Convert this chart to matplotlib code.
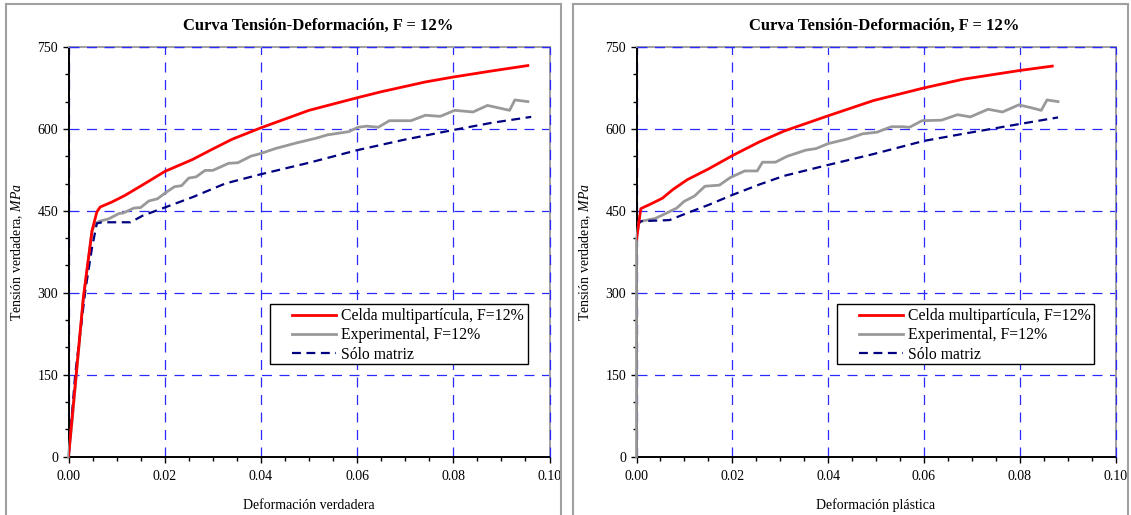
import matplotlib
matplotlib.use("Agg")
import matplotlib.pyplot as plt
from matplotlib.patches import Rectangle
from matplotlib.ticker import MultipleLocator, FormatStrFormatter

plt.rcParams["font.family"] = ["Liberation Serif", "DejaVu Serif"]
plt.rcParams["mathtext.fontset"] = "custom"
plt.rcParams["mathtext.it"] = "Liberation Serif:italic"
plt.rcParams["mathtext.rm"] = "Liberation Serif"

# --- data, left panel (true strain) ---
true_red_x = [0, 0.0007, 0.0031, 0.0049, 0.0059, 0.0066, 0.0090, 0.0117, 0.0159, 0.020,
              0.0258, 0.0295, 0.034, 0.040, 0.050, 0.060, 0.065, 0.0742, 0.080, 0.0879, 0.0955]
true_red_y = [0, 66, 292, 414, 448, 457, 466, 478, 500, 522,
              544, 561, 581, 602, 634, 657, 668, 686, 695, 706, 716]

true_gray_x = [0, 0.0007, 0.0031, 0.0049, 0.0056, 0.0065, 0.0083, 0.0105, 0.0114, 0.0136,
               0.0150, 0.0167, 0.0185, 0.020, 0.022, 0.0235, 0.025, 0.0265, 0.0284, 0.030,
               0.0333, 0.0352, 0.0379, 0.040, 0.043, 0.0477, 0.0515, 0.0538, 0.0583, 0.0602,
               0.062, 0.0644, 0.0667, 0.0712, 0.0742, 0.0773, 0.0803, 0.0841, 0.0871, 0.0917,
               0.0928, 0.0955]
true_gray_y = [0, 60, 290, 414, 427, 431, 435, 445, 446, 455,
               456, 468, 472, 482, 494, 496, 510, 512, 524, 524,
               537, 538, 550, 555, 564, 575, 583, 589, 595, 603,
               605, 603, 615, 615, 625, 623, 634, 631, 643, 634,
               653, 650]

true_blue_x = [0, 0.0014, 0.0035, 0.0049, 0.0059, 0.007, 0.0129, 0.0154, 0.020, 0.0258,
               0.0326, 0.040, 0.050, 0.060, 0.0697, 0.080, 0.0879, 0.0962]
true_blue_y = [0, 151, 304, 383, 427, 429, 429, 441, 456, 475,
               500, 517, 538, 561, 580, 598, 611, 622]

# --- data, right panel (plastic strain) ---
pl_red_x = [0, 0.0009, 0.0031, 0.0054, 0.0076, 0.0106, 0.0151, 0.020, 0.0256, 0.0308,
            0.040, 0.0495, 0.060, 0.0682, 0.080, 0.0868]
pl_red_y = [398, 454, 463, 473, 489, 507, 527, 551, 576, 596,
            624, 652, 675, 691, 707, 715]

pl_gray_x = [0, 0, 0.0005, 0.0039, 0.0061, 0.0084, 0.0099, 0.0121, 0.0143, 0.0173,
             0.0196, 0.0226, 0.0252, 0.0263, 0.029, 0.0315, 0.0353, 0.0375, 0.040, 0.0442,
             0.0472, 0.0502, 0.0532, 0.0555, 0.057, 0.0596, 0.0637, 0.067, 0.0697, 0.0734,
             0.0764, 0.0798, 0.0823, 0.0845, 0.0857, 0.088]
pl_gray_y = [0, 397, 430, 436, 445, 455, 467, 477, 495, 497,
             511, 523, 523, 539, 539, 550, 561, 564, 573, 582,
             591, 594, 604, 604, 603, 615, 616, 626, 622, 636,
             631, 644, 639, 634, 653, 650]

pl_blue_x = [0, 0.0009, 0.0069, 0.0106, 0.0151, 0.020, 0.0256, 0.0308, 0.040, 0.0495,
             0.060, 0.0682, 0.080, 0.088]
pl_blue_y = [421, 431, 433, 446, 461, 479, 498, 514, 534, 554,
             578, 591, 609, 621]

title = "Curva Tensión-Deformación, F = 12%"
labels = ["Celda multipartícula, F=12%", "Experimental, F=12%", "Sólo matriz"]

W, H = 1131, 515
fig = plt.figure(figsize=(W / 100, H / 100), dpi=100)

# outer chart frames
for x0, x1 in [(6, 561), (573, 1128)]:
    fig.patches.append(Rectangle((x0 / W, -0.02), (x1 - x0) / W, (H - 4) / H + 0.02,
                                 transform=fig.transFigure, fill=False,
                                 edgecolor="#a0a0a0", linewidth=1.5))

grid_dash = (0, (8, 6))


def panel(left_px, right_px, rx, ry, gx, gy, bx, by, xlabel, title_x):
    ax = fig.add_axes([left_px / W, (H - 456.5) / H,
                       (right_px - left_px) / W, 409.5 / H])
    ax.plot(rx, ry, color="#ff0000", lw=2.0, zorder=4, label=labels[0])
    ax.plot(gx, gy, color="#999999", lw=2.0, zorder=3, label=labels[1], clip_on=False)
    ax.plot(bx, by, color="#000080", lw=1.6, ls=(0, (4, 2.5)), zorder=3, label=labels[2])

    ax.set_xlim(0, 0.10)
    ax.set_ylim(0, 750)
    ax.xaxis.set_major_locator(MultipleLocator(0.02))
    ax.xaxis.set_minor_locator(MultipleLocator(0.005))
    ax.xaxis.set_major_formatter(FormatStrFormatter("%.2f"))
    ax.yaxis.set_major_locator(MultipleLocator(150))
    ax.yaxis.set_minor_locator(MultipleLocator(50))
    ax.tick_params(which="both", direction="out", labelsize=10, width=1)
    ax.tick_params(which="major", length=4)
    ax.tick_params(which="minor", length=3)
    ax.tick_params(axis="x", pad=6)

    ax.grid(True, which="major", color="#2a2aff", lw=0.9, ls=grid_dash)
    ax.set_axisbelow(True)

    for s in ["left", "bottom"]:
        ax.spines[s].set_color("black")
        ax.spines[s].set_linewidth(1.4)
    for s in ["top", "right"]:
        ax.spines[s].set_color("#a0a0a0")
        ax.spines[s].set_linewidth(1.4)
    # dashed blue lines over the gray top/right border
    ax.axhline(750, color="#2a2aff", lw=0.9, ls=grid_dash, zorder=3, clip_on=False)
    ax.axvline(0.10, color="#2a2aff", lw=0.9, ls=grid_dash, zorder=3, clip_on=False)

    ax.set_xlabel(xlabel, fontsize=10, labelpad=11)
    ax.set_ylabel("Tensión verdadera, $\\mathit{MPa}$", fontsize=10, labelpad=9)
    ax.set_title(title, fontsize=12, fontweight="bold", pad=12, x=title_x)

    # legend frame drawn separately (Excel style: wide blank left margin)
    ax.add_patch(Rectangle((0.418, 0.226), 0.537, 0.146, transform=ax.transAxes,
                           facecolor="white", edgecolor="black", lw=1.0, zorder=5))
    leg = ax.legend(loc="upper left", bbox_to_anchor=(0.465, 0.362), fontsize=11.3,
                    frameon=False, handlelength=2.8, handletextpad=0.3,
                    borderpad=0, labelspacing=0.2, borderaxespad=0)
    leg.set_zorder(6)
    return ax


panel(68.5, 549.5, true_red_x, true_red_y, true_gray_x, true_gray_y,
      true_blue_x, true_blue_y, "Deformación verdadera", 0.52)
panel(636.5, 1115.5, pl_red_x, pl_red_y, pl_gray_x, pl_gray_y,
      pl_blue_x, pl_blue_y, "Deformación plástica", 0.517)

fig.savefig("out.png", dpi=100)
